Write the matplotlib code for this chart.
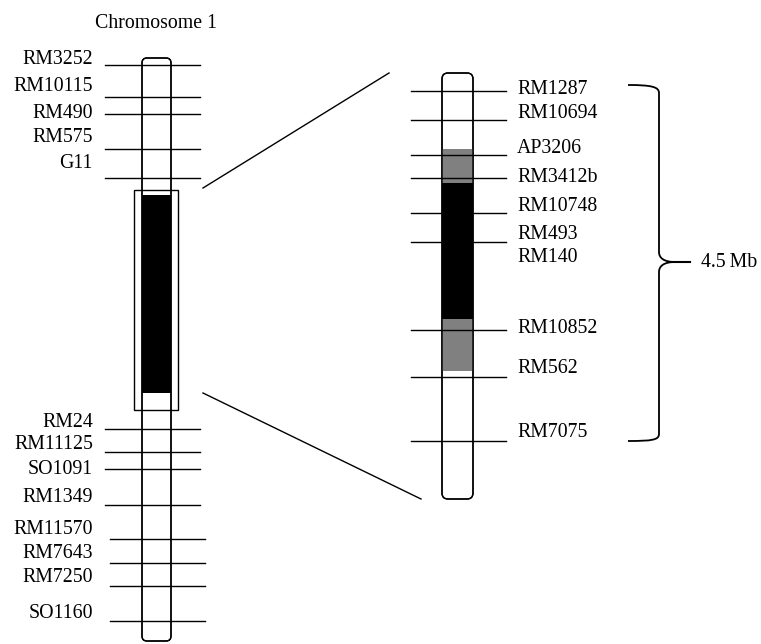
"""Chromosome 1 marker map with zoomed-in target region"""

import matplotlib
matplotlib.use('Agg')
import matplotlib.pyplot as plt
from matplotlib.patches import FancyBboxPatch, Rectangle, PathPatch
from matplotlib.path import Path

# left chromosome: marker names, line positions, label positions
left_top = ['RM3252', 'RM10115', 'RM490', 'RM575', 'G11']
left_top_y = [65, 97, 114, 149, 178]
left_top_lab = [59, 86, 113, 137, 163]

left_bot = ['RM24', 'RM11125', 'SO1091', 'RM1349',
            'RM11570', 'RM7643', 'RM7250', 'SO1160']
left_bot_y = [429, 452, 469, 505, 539, 563, 586, 621]
left_bot_lab = [422, 444, 469, 497, 530, 553, 578, 613]

# right (zoomed) chromosome
right_names = ['RM1287', 'RM10694', 'AP3206', 'RM3412b', 'RM10748',
               'RM493', 'RM140', 'RM10852', 'RM562', 'RM7075']
right_y = [91, 120, 155, 178, 213, 242, None, 330, 377, 441]
right_lab = [89, 113, 148, 177, 206, 234, 257, 328, 368, 432]

# shaded segments on the zoomed chromosome (start, end, colour)
segments = [(149, 183, '#808080'), (183, 319, '#000000'), (319, 371, '#808080')]

fig = plt.figure(figsize=(7.61, 6.44), dpi=100)
ax = fig.add_axes([0, 0, 1, 1])
ax.set_xlim(0, 761)
ax.set_ylim(644, 0)
ax.axis('off')

plt.rcParams['font.family'] = ['Liberation Serif', 'DejaVu Serif']
fs = 14.3
lw = 1.0


def chromosome(x, y, w, h, r, z):
    return FancyBboxPatch((x, y), w, h,
                          boxstyle='round,pad=0,rounding_size=%g' % r,
                          fc='white' if z == 1 else 'none',
                          ec='black', lw=lw, zorder=z)


# ---- left chromosome
ax.add_patch(chromosome(142, 58, 29, 583, 5, 1))
ax.add_patch(Rectangle((142, 195), 29, 198, fc='black', ec='none', zorder=2))
ax.add_patch(chromosome(142, 58, 29, 583, 5, 3))
ax.add_patch(Rectangle((134, 190), 44, 220, fc='none', ec='black', lw=lw, zorder=3))

for name, y, ly in zip(left_top, left_top_y, left_top_lab):
    ax.plot([105, 200], [y, y], color='black', lw=lw, zorder=4)
    ax.text(93, ly, name, ha='right', va='center', fontsize=fs)

for i, (name, y, ly) in enumerate(zip(left_bot, left_bot_y, left_bot_lab)):
    x0 = 105 if i < 4 else 110
    ax.plot([x0, x0 + 95], [y, y], color='black', lw=lw, zorder=4)
    ax.text(93, ly, name, ha='right', va='center', fontsize=fs)

ax.text(156, 23, 'Chromosome 1', ha='center', va='center', fontsize=fs)

# ---- zoom lines
ax.plot([203, 389], [188, 73], color='black', lw=lw)
ax.plot([203, 421], [393, 499], color='black', lw=lw)

# ---- right chromosome
ax.add_patch(chromosome(442, 73, 31, 426, 6, 1))
for y0, y1, c in segments:
    ax.add_patch(Rectangle((442, y0), 31, y1 - y0, fc=c, ec='none', zorder=2))
ax.add_patch(chromosome(442, 73, 31, 426, 6, 3))

for name, y, ly in zip(right_names, right_y, right_lab):
    if y is not None:
        ax.plot([411, 506], [y, y], color='black', lw=lw, zorder=4)
    ax.text(517, ly, name, ha='left', va='center', fontsize=fs)

# ---- brace
verts = [(628, 85), (652, 85), (659, 87), (659, 93),
         (659, 252),
         (659, 258), (664, 262), (675, 262),
         (664, 262), (659, 266), (659, 272),
         (659, 434),
         (659, 440), (652, 441), (628, 441)]
codes = [Path.MOVETO, Path.CURVE4, Path.CURVE4, Path.CURVE4,
         Path.LINETO,
         Path.CURVE4, Path.CURVE4, Path.CURVE4,
         Path.CURVE4, Path.CURVE4, Path.CURVE4,
         Path.LINETO,
         Path.CURVE4, Path.CURVE4, Path.CURVE4]
ax.add_patch(PathPatch(Path(verts, codes), fc='none', ec='black', lw=1.3))
ax.plot([673, 690], [262, 262], color='black', lw=1.5)
ax.text(701, 262, '4.5\u2009Mb', ha='left', va='center', fontsize=fs)

plt.savefig('out.png', dpi=100)
plt.close()
